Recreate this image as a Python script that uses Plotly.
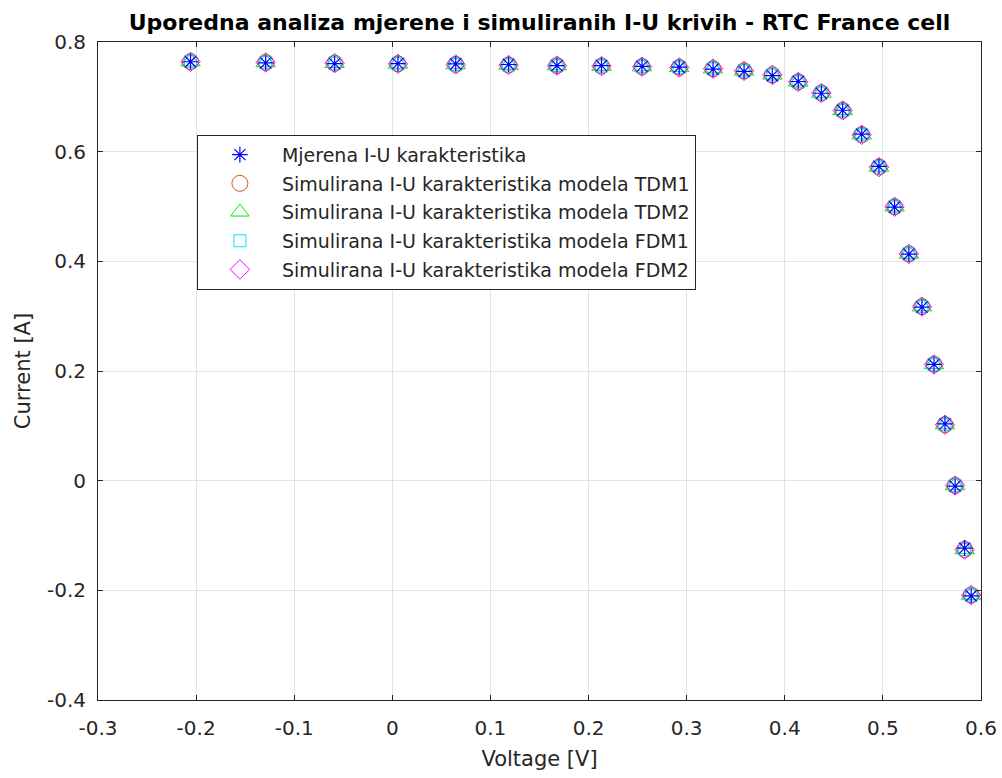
import plotly.graph_objects as go

voltage = [-0.2057, -0.1291, -0.0588, 0.0057, 0.0646, 0.1185, 0.1678, 0.2132, 0.2545, 0.2924,
           0.3269, 0.3585, 0.3873, 0.4137, 0.4373, 0.4590, 0.4784, 0.4960, 0.5119, 0.5265,
           0.5398, 0.5521, 0.5633, 0.5736, 0.5833, 0.5900]
i_measured = [0.7640, 0.7620, 0.7605, 0.7605, 0.7600, 0.7590, 0.7570, 0.7570, 0.7555, 0.7540,
              0.7505, 0.7465, 0.7385, 0.7280, 0.7065, 0.6755, 0.6320, 0.5730, 0.4990, 0.4130,
              0.3165, 0.2120, 0.1035, -0.0100, -0.1230, -0.2100]
i_tdm1 = [0.7641, 0.7627, 0.7614, 0.7602, 0.7591, 0.7580, 0.7571, 0.7561, 0.7551, 0.7537,
          0.7514, 0.7474, 0.7401, 0.7274, 0.7070, 0.6753, 0.6309, 0.5720, 0.4996, 0.4136,
          0.3175, 0.2121, 0.1022, -0.0087, -0.1255, -0.2085]
i_tdm2 = [0.7640, 0.7626, 0.7613, 0.7601, 0.7590, 0.7580, 0.7570, 0.7561, 0.7551, 0.7537,
          0.7514, 0.7474, 0.7401, 0.7275, 0.7071, 0.6754, 0.6310, 0.5721, 0.4996, 0.4135,
          0.3174, 0.2120, 0.1022, -0.0088, -0.1255, -0.2085]
i_fdm1 = [0.7641, 0.7627, 0.7614, 0.7602, 0.7591, 0.7581, 0.7571, 0.7561, 0.7551, 0.7537,
          0.7514, 0.7474, 0.7401, 0.7274, 0.7070, 0.6753, 0.6308, 0.5720, 0.4996, 0.4136,
          0.3175, 0.2121, 0.1022, -0.0087, -0.1256, -0.2085]
i_fdm2 = [0.7641, 0.7627, 0.7614, 0.7602, 0.7591, 0.7580, 0.7570, 0.7561, 0.7550, 0.7536,
          0.7513, 0.7473, 0.7400, 0.7273, 0.7069, 0.6752, 0.6308, 0.5719, 0.4995, 0.4135,
          0.3174, 0.2120, 0.1021, -0.0088, -0.1256, -0.2086]

x_ticks = [-0.3, -0.2, -0.1, 0, 0.1, 0.2, 0.3, 0.4, 0.5, 0.6]
x_tick_labels = ["-0.3", "-0.2", "-0.1", "0", "0.1", "0.2", "0.3", "0.4", "0.5", "0.6"]
y_ticks = [-0.4, -0.2, 0, 0.2, 0.4, 0.6, 0.8]
y_tick_labels = ["-0.4", "-0.2", "0", "0.2", "0.4", "0.6", "0.8"]

series = [
    ("Simulirana I-U karakteristika modela TDM1", i_tdm1, "circle-open", "#D95319", 16, 2),
    ("Simulirana I-U karakteristika modela TDM2", i_tdm2, "triangle-up-open", "#00EE00", 17, 3),
    ("Simulirana I-U karakteristika modela FDM1", i_fdm1, "square-open", "#00E5EE", 12, 4),
    ("Simulirana I-U karakteristika modela FDM2", i_fdm2, "diamond-open", "#FF00FF", 15, 5),
]

FONT = "DejaVu Sans, Arial"
fig = go.Figure()
for name, ys, sym, col, sz, rank in series:
    fig.add_trace(go.Scatter(x=voltage, y=ys, mode="markers", name=name, legendrank=rank,
                             legendgroup=name,
                             marker=dict(symbol=sym, size=sz, color=col, line=dict(width=1, color=col))))
fig.add_trace(go.Scatter(x=voltage, y=i_measured, mode="markers", name="Mjerena I-U karakteristika",
                         legendrank=1, legendgroup="m",
                         marker=dict(symbol="asterisk-open", size=13, color="#0000FF",
                                     line=dict(width=1.2, color="#0000FF"))))

axis_common = dict(showgrid=True, gridcolor="#E3E3E3", gridwidth=1, showline=True, linecolor="#262626",
                   linewidth=1, mirror="ticks", ticks="inside", ticklen=5, tickcolor="#262626",
                   zeroline=False, ticklabeloverflow="allow", automargin=False,
                   tickfont=dict(family=FONT, size=20, color="#262626"))

fig.update_layout(
    width=1002, height=778,
    margin=dict(l=98, r=21, t=42, b=78, autoexpand=False),
    paper_bgcolor="white", plot_bgcolor="white",
    title=dict(text="<b>Uporedna analiza mjerene i simuliranih I-U krivih - RTC France cell</b>",
               x=0.5, xref="paper", xanchor="center", y=0.971, yref="container", yanchor="middle",
               font=dict(family=FONT, size=22, color="black")),
    xaxis=dict(range=[-0.3, 0.6], tickvals=x_ticks, ticktext=x_tick_labels, ticklabelstandoff=10,
               title=dict(text="Voltage [V]", font=dict(family=FONT, size=21, color="#262626"), standoff=12),
               **axis_common),
    yaxis=dict(range=[-0.4, 0.8], tickvals=y_ticks, ticktext=y_tick_labels, ticklabelstandoff=7,
               title=dict(text="Current [A]", font=dict(family=FONT, size=21, color="#262626"), standoff=10),
               **axis_common),
    legend=dict(x=0.112, y=0.859, xanchor="left", yanchor="top", bgcolor="white",
                bordercolor="#262626", borderwidth=1,
                font=dict(family=FONT, size=19, color="#262626"),
                itemsizing="trace", itemwidth=74, tracegroupgap=1),
    showlegend=True,
)

fig.write_html("out.html", config={"displayModeBar": False},
               post_script="document.body.style.margin='0px';document.body.style.overflow='hidden';")
